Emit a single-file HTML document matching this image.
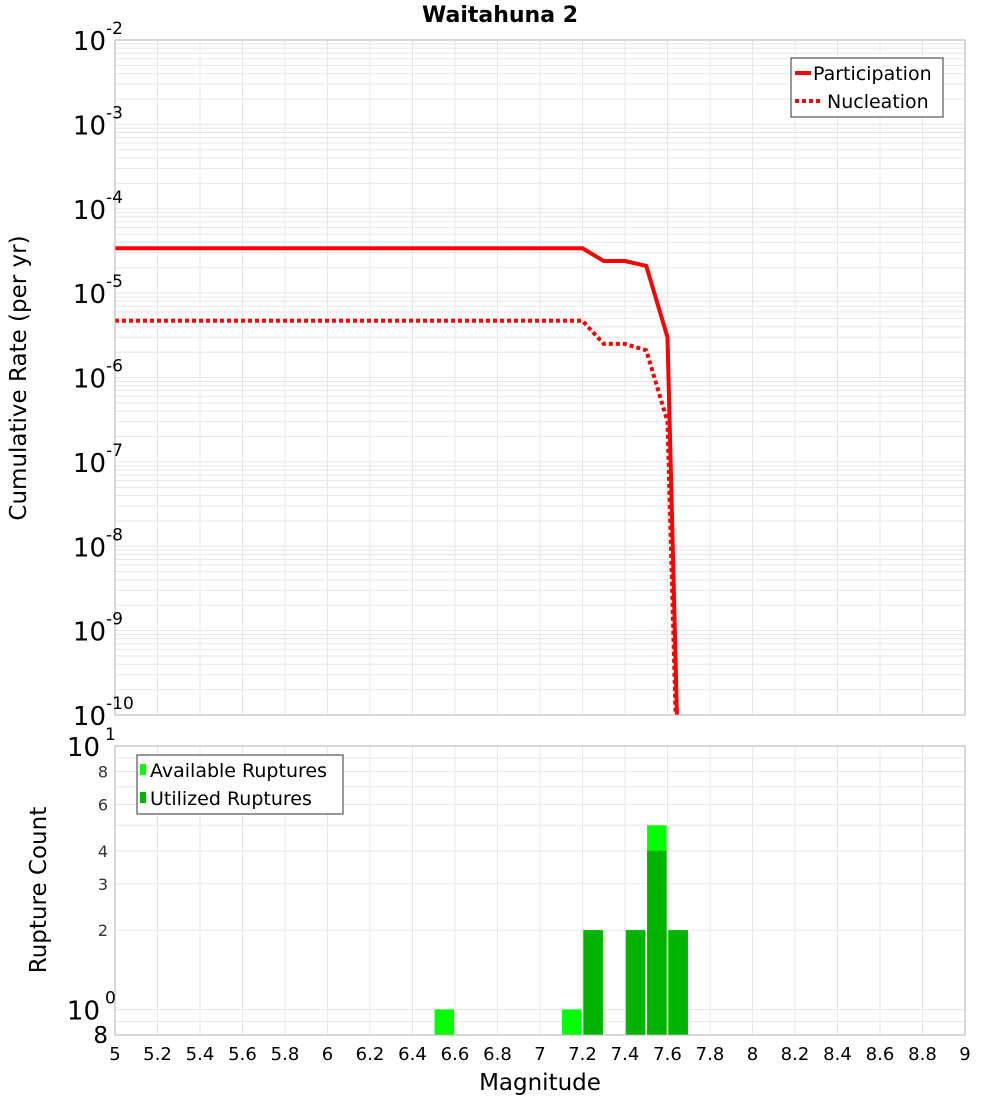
<!DOCTYPE html>
<html><head><meta charset="utf-8"><style>
html,body{margin:0;background:#fff;overflow:hidden;width:1000px;height:1100px}
svg{display:block}
svg text{font-family:"DejaVu Sans","Liberation Sans",sans-serif}
</style></head><body>
<svg id="c" width="1000" height="1100" xmlns="http://www.w3.org/2000/svg"></svg>
<script>
const magnitudes=[5.0,5.1,5.2,5.3,5.4,5.5,5.6,5.7,5.8,5.9,6.0,6.1,6.2,6.3,6.4,6.5,6.6,6.7,6.8,6.9,7.0,7.1,7.2,7.3,7.4,7.5,7.6,7.7];
const participation=[3.4e-5,3.4e-5,3.4e-5,3.4e-5,3.4e-5,3.4e-5,3.4e-5,3.4e-5,3.4e-5,3.4e-5,3.4e-5,3.4e-5,3.4e-5,3.4e-5,3.4e-5,3.4e-5,3.4e-5,3.4e-5,3.4e-5,3.4e-5,3.4e-5,3.4e-5,3.4e-5,2.4e-5,2.4e-5,2.1e-5,3.0e-6,2.5e-16];
const nucleation=[4.7e-6,4.7e-6,4.7e-6,4.7e-6,4.7e-6,4.7e-6,4.7e-6,4.7e-6,4.7e-6,4.7e-6,4.7e-6,4.7e-6,4.7e-6,4.7e-6,4.7e-6,4.7e-6,4.7e-6,4.7e-6,4.7e-6,4.7e-6,4.7e-6,4.7e-6,4.7e-6,2.5e-6,2.5e-6,2.1e-6,3.0e-7,2.5e-16];
const barMags=[6.55,7.15,7.25,7.45,7.55,7.65];
const available=[1,1,2,2,5,2];
const utilized=[0,0,2,2,4,2];
const xTicks=[5,5.2,5.4,5.6,5.8,6,6.2,6.4,6.6,6.8,7,7.2,7.4,7.6,7.8,8,8.2,8.4,8.6,8.8,9];
const topExps=[-2,-3,-4,-5,-6,-7,-8,-9,-10];
const botTicks=[8,6,4,3,2];

const svg=document.getElementById('c');
const NS='http://www.w3.org/2000/svg';
function mk(t,a,p){const e=document.createElementNS(NS,t);for(const k in a)e.setAttribute(k,a[k]);(p||svg).appendChild(e);return e;}
const L=115,R=965,T1=40,B1=715,T2=746,B2=1035;
const X=m=>L+(m-5)/4*(R-L);
const Y1=v=>T1+(-2-Math.log10(v))/8*(B1-T1);
const Y2=v=>T2+(1-Math.log10(v))/(1-Math.log10(0.8))*(B2-T2);

let t=mk('text',{x:500,y:22,'text-anchor':'middle','font-size':22,'font-weight':'bold'});t.textContent='Waitahuna 2';



const g=mk('g',{stroke:'#e8e8e8','stroke-width':1});


xTicks.forEach(m=>{mk('line',{x1:X(m),x2:X(m),y1:T1,y2:B1},g);mk('line',{x1:X(m),x2:X(m),y1:T2,y2:B2},g);});
for(let e=-10;e<-2;e++)for(let k=1;k<10;k++){const y=Y1(k*Math.pow(10,e));mk('line',{x1:L,x2:R,y1:y,y2:y},g);}
for(let k=1;k<=10;k++){const y=Y2(k);mk('line',{x1:L,x2:R,y1:y,y2:y},g);}
mk('line',{x1:L,x2:R,y1:Y2(0.9),y2:Y2(0.9)},g);

const defs=mk('defs',{});
const cp=mk('clipPath',{id:'cp1'},defs);mk('rect',{x:L,y:T1,width:R-L,height:B1-T1},cp);
const cp2=mk('clipPath',{id:'cp2'},defs);mk('rect',{x:L,y:T2,width:R-L,height:B2-T2},cp2);

const lg=mk('g',{'clip-path':'url(#cp1)',fill:'none',stroke:'#ff0000','stroke-width':4});


const pp=mk('polyline',{points:magnitudes.map((m,i)=>X(m)+','+Y1(participation[i])).join(' ')},lg);


const np=mk('polyline',{points:magnitudes.map((m,i)=>X(m)+','+Y1(nucleation[i])).join(' '),'stroke-dasharray':'4,3'},lg);



const bg=mk('g',{'clip-path':'url(#cp2)'});


const bw=(R-L)/40*0.92;
barMags.forEach((m,i)=>{
  const r=mk('rect',{x:X(m)-bw/2,y:Y2(available[i]),width:bw,height:B2-Y2(available[i]),fill:'#00ff00'},bg);
  
  
  if(utilized[i]>0){const u=mk('rect',{x:X(m)-bw/2,y:Y2(utilized[i]),width:bw,height:B2-Y2(utilized[i]),fill:'#00b400'},bg);
  
  }
});

mk('rect',{x:L,y:T1,width:R-L,height:B1-T1,fill:'none',stroke:'#b0b0b0'});
mk('rect',{x:L,y:T2,width:R-L,height:B2-T2,fill:'none',stroke:'#b0b0b0'});

topExps.forEach(e=>{
  const y=Y1(Math.pow(10,e));
  const tx=mk('text',{x:106,y:y+10,'text-anchor':'end','font-size':26});
  
  
  tx.textContent='10';
  const s=mk('text',{x:106,y:y-6,'font-size':17});s.textContent=String(e);
  
  
});
[[10,'1'],[1,'0']].forEach(([v,e])=>{
  const y=Y2(v);
  const tx=mk('text',{x:100,y:y+10,'text-anchor':'end','font-size':26});tx.textContent='10';
  
  
  const s=mk('text',{x:105,y:y-6,'font-size':17});s.textContent=e;
  
  
});
botTicks.forEach(v=>{const tx=mk('text',{x:108,y:Y2(v)+6,'text-anchor':'end','font-size':16,fill:'#333'});tx.textContent=v;
  
  });
let e8=mk('text',{x:108,y:1043,'text-anchor':'end','font-size':23});e8.textContent='8';



xTicks.forEach(m=>{const tx=mk('text',{x:X(m),y:1060,'text-anchor':'middle','font-size':18});tx.textContent=String(m);
  
  });
let xt=mk('text',{x:540,y:1090,'text-anchor':'middle','font-size':23});xt.textContent='Magnitude';


let yt=mk('text',{x:0,y:0,'text-anchor':'middle','font-size':23,transform:'translate(26,378) rotate(-90)'});yt.textContent='Cumulative Rate (per yr)';


let yt2=mk('text',{x:0,y:0,'text-anchor':'middle','font-size':23,transform:'translate(46,890) rotate(-90)'});yt2.textContent='Rupture Count';



const lt=mk('g',{});


mk('rect',{x:791,y:58,width:152,height:59,fill:'#fff',stroke:'#333'},lt);
mk('line',{x1:795,x2:811,y1:73,y2:73,stroke:'#f00','stroke-width':4},lt);
mk('line',{x1:795,x2:823,y1:101,y2:101,stroke:'#f00','stroke-width':4,'stroke-dasharray':'4,3'},lt);
let a=mk('text',{x:813,y:80,'font-size':19},lt);a.textContent='Participation';
let b=mk('text',{x:827,y:108,'font-size':19},lt);b.textContent='Nucleation';
const lb=mk('g',{});


mk('rect',{x:137,y:755,width:206,height:59,fill:'#fff',stroke:'#333'},lb);
mk('rect',{x:140,y:764,width:6,height:11,fill:'#00ff00'},lb);
mk('rect',{x:140,y:792,width:6,height:11,fill:'#00b400'},lb);
let c=mk('text',{x:150,y:777,'font-size':19},lb);c.textContent='Available Ruptures';
let d=mk('text',{x:150,y:805,'font-size':19},lb);d.textContent='Utilized Ruptures';
</script>
</body></html>
